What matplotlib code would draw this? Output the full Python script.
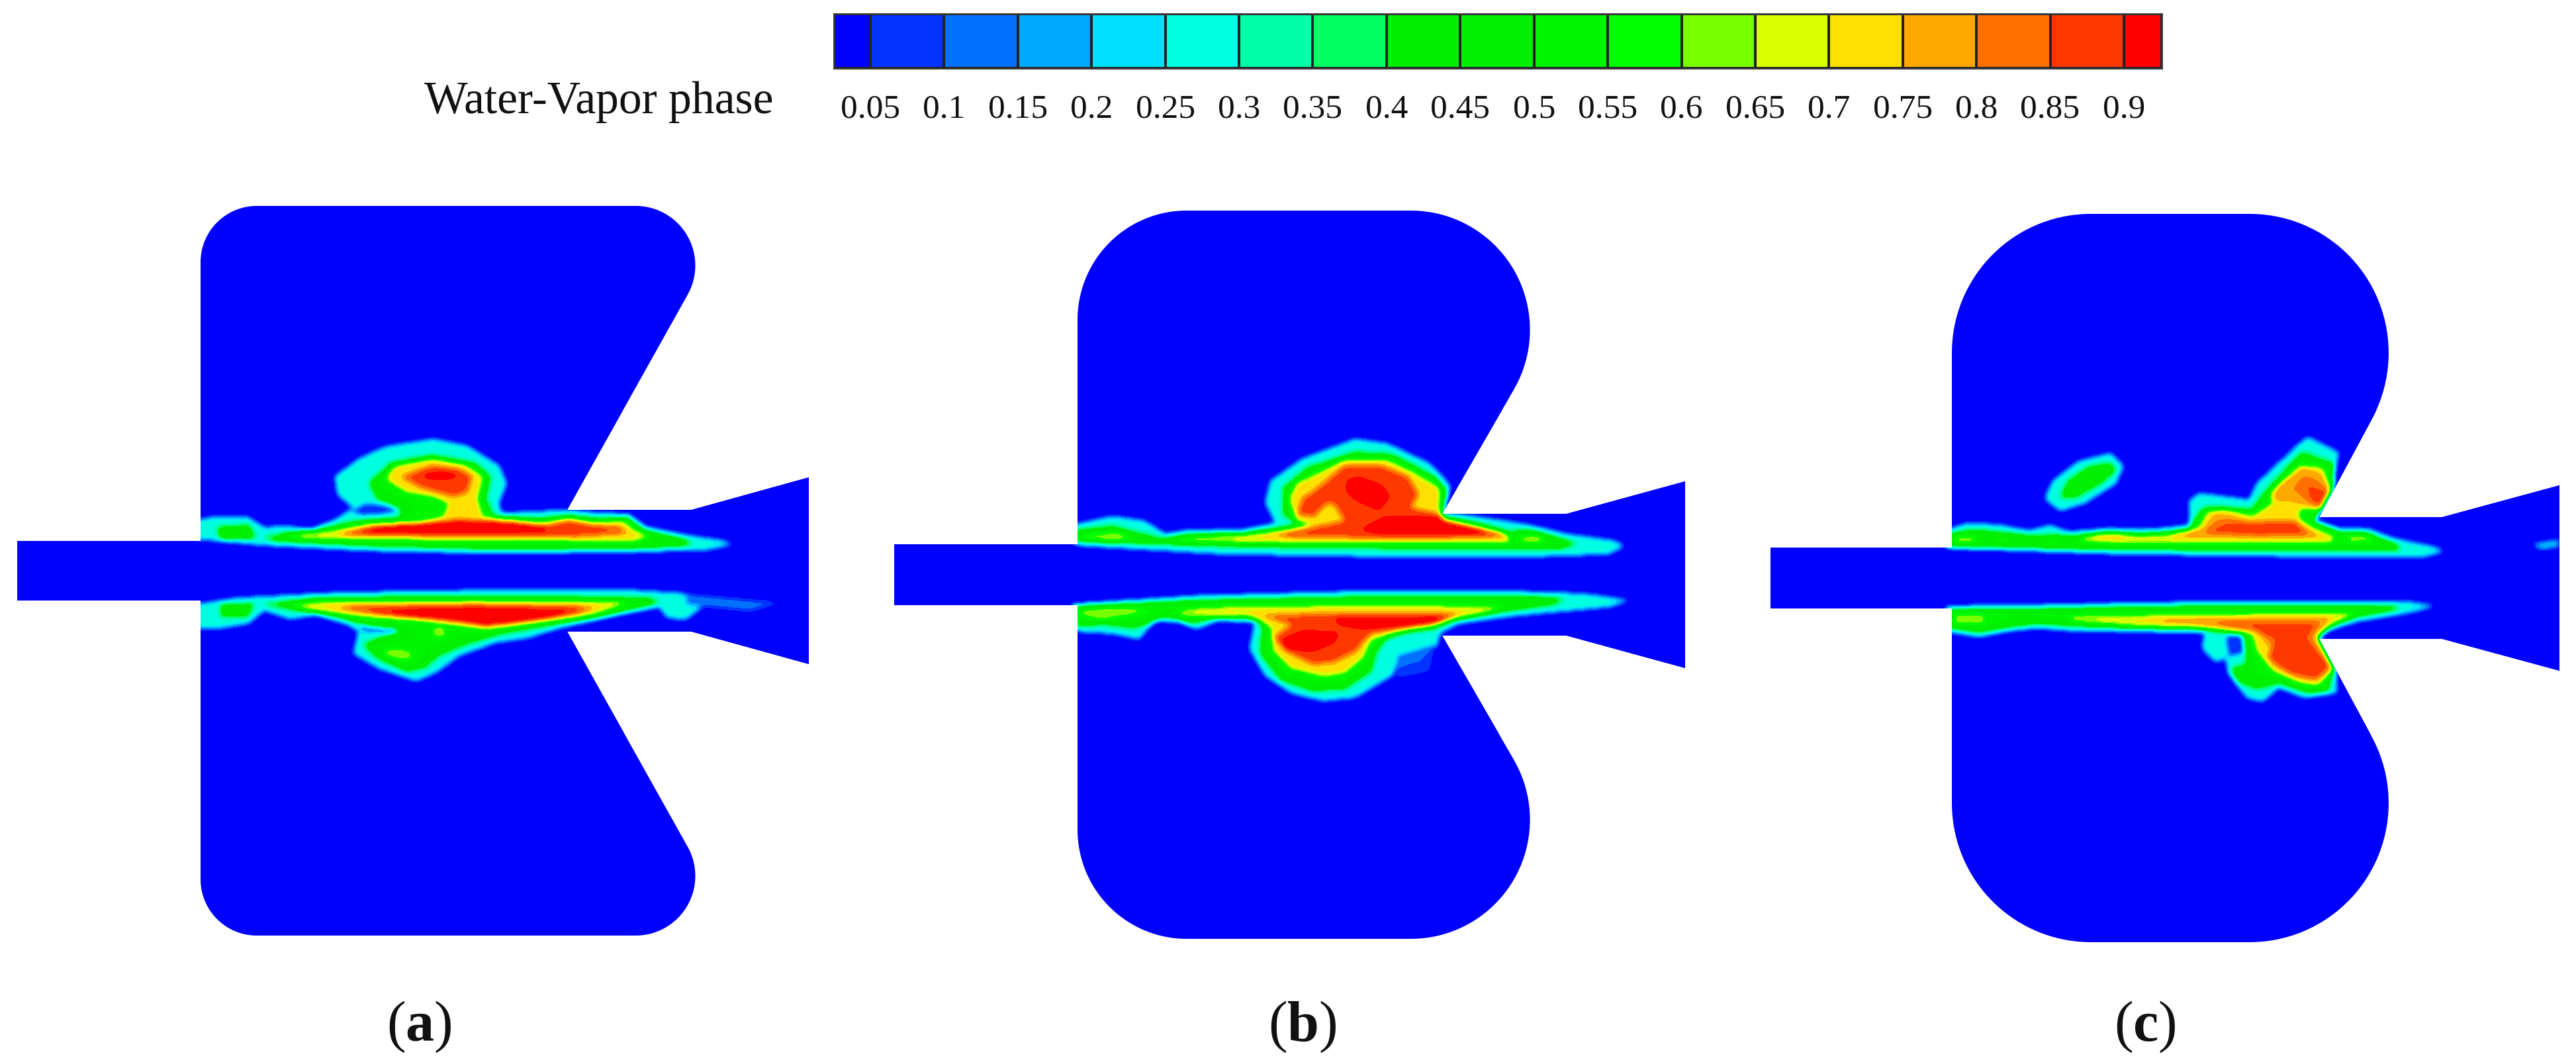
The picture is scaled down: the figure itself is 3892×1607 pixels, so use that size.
import numpy as np
import matplotlib
matplotlib.use("Agg")
import matplotlib.pyplot as plt
from matplotlib.path import Path
from matplotlib.patches import PathPatch

plt.rcParams['font.family'] = ['Liberation Serif', 'DejaVu Serif']
plt.rcParams['mathtext.fontset'] = 'custom'
plt.rcParams['mathtext.rm'] = 'Liberation Serif'
plt.rcParams['mathtext.bf'] = 'Liberation Serif:bold'

W, H = 3892, 1607

tick_values = [0.05, 0.1, 0.15, 0.2, 0.25, 0.3, 0.35, 0.4, 0.45, 0.5, 0.55, 0.6, 0.65, 0.7, 0.75, 0.8, 0.85, 0.9]
tick_labels = ['0.05', '0.1', '0.15', '0.2', '0.25', '0.3', '0.35', '0.4', '0.45', '0.5', '0.55', '0.6', '0.65', '0.7', '0.75', '0.8', '0.85', '0.9']
band_colors = ['#0000ff', '#0033ff', '#0070ff', '#00a8ff', '#00e0ff', '#00ffe0', '#00ffa8', '#00ff60', '#00ee00',
               '#00f000', '#00f500', '#00ff00', '#78ff00', '#d8ff00', '#ffe000', '#ffa800', '#ff7000', '#ff3800', '#ff0000']
bar_edges = [0.0253] + tick_values + [0.9256]

# chamber outlines in pixels: nozzle left, wall x, nozzle half height, centre y, half height,
# left radius, right radius, throat corner x, throat half height, slope of the wall,
# throat end x, exit x, exit half height
shape_a = dict(noz=26, wall=303, nh=45, cy=862, hh=551, rl=85, rr=90, tx=857, th=92, sl=0.56, te=1045, ex=1222, eh=141)
shape_b = dict(noz=1351, wall=1628, nh=46, cy=868, hh=550, rl=165, rr=180, tx=2179, th=92, sl=0.577, te=2367, ex=2546, eh=141)
shape_c = dict(noz=2675, wall=2949, nh=46, cy=873, hh=550, rl=210, rr=210, tx=3504, th=92, sl=0.538, te=3690, ex=3867, eh=140)

# traced iso-regions (level, outline), painted in order; x in crop units, y in crop units
a_regions = [
    (0.28, [(370,500),(410,480),(470,485),(500,530),(545,525),(590,540),(640,490),(670,440),(640,380),(635,300),(680,220),(730,165),(820,130),(885,160),(945,250),(960,330),(945,420),(950,465),(1010,460),(1075,450),(1130,465),(1190,470),(1225,530),(1300,565),(1370,590),(1390,605),(1340,630),(1200,640),(900,645),(700,635),(500,610),(370,580)]),
    (0.05, [(665,460),(690,420),(730,430),(750,450),(745,465),(690,475)]),
    (0.5, [(500,575),(600,540),(680,500),(760,485),(760,440),(715,400),(700,330),(740,240),(820,205),(900,240),(930,300),(920,400),(935,480),(1020,490),(1080,478),(1130,490),(1190,485),(1220,540),(1300,585),(1310,610),(1200,625),(900,625),(700,612),(520,590)]),
    (0.5, [(410,530),(470,520),(485,575),(420,585)]),
    (0.72, [(530,565),(620,550),(700,515),(800,505),(840,480),(850,420),(820,390),(770,370),(730,310),(750,250),(820,220),(880,245),(915,300),(905,400),(915,480),(950,490),(1030,510),(1075,490),(1130,510),(1180,500),(1200,540),(1230,570),(1200,590),(900,585),(700,580),(540,575)]),
    (0.87, [(640,560),(720,520),(830,505),(870,495),(1030,520),(1080,495),(1130,520),(1170,525),(1190,555),(1100,570),(800,570),(660,565)]),
    (0.87, [(760,300),(820,250),(870,265),(895,300),(885,370),(860,390),(800,350)]),
    (0.95, [(680,540),(760,520),(880,500),(960,505),(1030,525),(1040,550),(900,555),(700,555)]),
    (0.95, [(800,290),(840,278),(875,295),(840,312),(805,305)]),
    (0.28, [(370,900),(370,985),(420,985),(470,965),(500,905),(550,945),(600,925),(660,970),(680,1000),(670,1100),(720,1170),(790,1225),(830,1180),(870,1110),(940,1050),(1000,1030),(1060,985),(1170,925),(1250,890),(1265,940),(1300,945),(1330,890),(1300,830),(1200,815),(900,815),(650,825),(450,850),(370,880)]),
    (0.12, [(1300,830),(1480,870),(1420,910),(1380,900),(1300,880)]),
    (0.5, [(510,875),(600,850),(900,840),(1230,850),(1250,870),(1150,930),(1020,980),(950,1010),(880,1060),(830,1110),(805,1165),(770,1180),(715,1120),(690,1060),(730,1020),(770,1000),(700,975),(640,935),(560,900),(500,880)]),
    (0.5, [(420,880),(480,875),(470,930),(420,930)]),
    (0.1, [(680,975),(750,990),(745,1010),(690,1005)]),
    (0.72, [(540,885),(620,868),(900,865),(1190,870),(1120,925),(1000,965),(920,990),(800,950),(700,935),(600,905)]),
    (0.66, [(815,1000),(835,975),(850,1010),(830,1030)]),
    (0.66, [(725,1085),(760,1080),(785,1105),(770,1130),(735,1110)]),
    (0.87, [(620,890),(900,875),(1130,890),(1090,925),(950,970),(880,960),(760,935)]),
    (0.95, [(690,905),(900,895),(1090,905),(1040,940),(920,975),(860,950),(750,925)]),
]

b_regions = [
    (0.28, [(365,520),(440,480),(500,500),(540,560),(590,540),(690,540),(750,510),(730,420),(740,320),(800,220),(900,130),(960,150),(1040,240),(1080,340),(1065,465),(1110,475),(1180,500),(1230,520),(1300,560),(1390,590),(1410,615),(1380,650),(1200,665),(900,660),(650,650),(370,610)]),
    (0.5, [(365,545),(440,525),(480,550),(530,580),(590,560),(690,555),(770,530),(790,510),(765,470),(765,350),(810,260),(900,190),(970,200),(1050,300),(1075,370),(1065,480),(1130,510),(1190,550),(1230,540),(1290,580),(1320,605),(1280,630),(1100,628),(800,620),(600,610),(365,590)]),
    (0.66, [(385,565),(450,555),(480,580),(450,590),(385,585)]),
    (0.66, [(500,575),(515,580),(505,585)]),
    (0.66, [(1210,575),(1245,565),(1262,595),(1215,597)]),
    (0.72, [(560,580),(690,565),(800,530),(815,510),(790,500),(775,400),(790,330),(880,225),(960,225),(1010,280),(1060,350),(1060,460),(1070,490),(1180,560),(1195,595),(1100,600),(700,595),(570,590)]),
    (0.87, [(740,565),(820,530),(870,500),(790,470),(800,400),(830,350),(880,250),(950,250),(1000,300),(1020,380),(1005,440),(1060,470),(1070,500),(1170,550),(1190,570),(1050,578),(800,575)]),
    (0.72, [(815,500),(845,420),(860,420),(880,500),(840,520)]),
    (0.95, [(885,320),(905,300),(950,340),(965,390),(945,450),(905,410),(885,370)]),
    (0.95, [(910,540),(960,480),(1050,480),(1075,510),(1140,540),(1150,560),(950,560)]),
    (0.28, [(365,880),(600,840),(900,820),(1200,820),(1330,830),(1420,860),(1380,890),(1200,930),(1095,965),(1060,1010),(1055,1070),(985,1110),(970,1200),(900,1300),(840,1315),(780,1280),(730,1200),(700,1080),(710,960),(640,950),(600,990),(570,960),(520,950),(490,1035),(440,1010),(370,1000)]),
    (0.1, [(980,1110),(1050,1060),(1040,1180),(980,1210)]),
    (0.5, [(365,885),(600,860),(900,845),(1250,845),(1300,855),(1270,880),(1150,920),(1085,945),(1050,985),(1000,1000),(960,1030),(940,1090),(930,1180),(880,1260),(820,1270),(760,1220),(720,1100),(725,960),(690,935),(630,940),(590,965),(545,935),(480,985),(430,970),(370,975)]),
    (0.66, [(380,905),(450,895),(530,905),(440,935),(420,945),(380,925)]),
    (0.72, [(565,910),(620,895),(900,885),(1180,890),(1160,910),(1080,950),(1040,980),(980,1000),(930,1040),(915,1120),(880,1190),(840,1205),(780,1170),(745,1090),(740,980),(700,930),(620,930),(570,925)]),
    (0.87, [(720,925),(1100,920),(1060,960),(1000,985),(930,1010),(900,1090),(860,1140),(820,1150),(770,1090),(745,1030),(780,970)]),
    (0.95, [(860,940),(1070,935),(1050,965),(990,975),(920,990),(870,970)]),
    (0.95, [(760,1040),(800,1000),(870,1005),(860,1050),(820,1090),(770,1080)]),
]

c_regions = [
    (0.28, [(365,545),(410,510),(470,520),(525,545),(565,520),(600,550),(680,535),(760,540),(830,520),(830,410),(850,375),(945,405),(960,330),(1055,120),(1115,190),(1100,360),(1070,500),(1120,540),(1170,535),(1220,580),(1300,620),(1315,640),(1280,660),(1000,660),(700,650),(365,620)]),
    (0.5, [(370,560),(420,540),(520,565),(600,570),(680,550),(740,560),(830,540),(845,480),(860,440),(950,450),(975,370),(1045,190),(1105,240),(1105,350),(1075,480),(1065,500),(1120,550),(1160,550),(1230,610),(1230,630),(1000,635),(600,625),(370,620)]),
    (0.66, [(385,570),(425,570),(420,595),(385,595)]),
    (0.66, [(560,570),(585,575),(570,590)]),
    (0.66, [(460,590),(480,590),(470,600)]),
    (0.66, [(1130,570),(1170,565),(1190,590),(1140,595)]),
    (0.72, [(620,580),(660,560),(720,565),(790,565),(850,530),(865,460),(900,445),(950,480),(990,420),(985,380),(1040,250),(1085,260),(1100,360),(1075,450),(1040,445),(1040,490),(1065,530),(1110,575),(1100,598),(800,598),(620,592)]),
    (0.8, [(790,570),(860,535),(880,470),(910,480),(940,500),(1030,500),(1050,530),(1080,570),(1000,575)]),
    (0.8, [(990,400),(1000,340),(1050,260),(1080,290),(1100,365),(1075,440),(1030,410)]),
    (0.8, [(640,575),(690,562),(720,575),(660,585)]),
    (0.87, [(860,550),(900,510),(1030,500),(1055,560),(960,565)]),
    (0.87, [(1050,330),(1100,370),(1080,450),(1060,400)]),
    (0.28, [(555,400),(570,320),(620,230),(680,195),(705,250),(690,330),(630,420),(585,455)]),
    (0.5, [(585,390),(600,320),(640,255),(680,240),(690,270),(660,330),(615,390)]),
    (0.22, [(1485,605),(1535,585),(1537,615),(1500,630)]),
    (0.28, [(365,890),(600,880),(900,865),(1240,865),(1300,885),(1240,920),(1150,955),(1090,1000),(1075,1025),(1110,1160),(1110,1280),(1050,1300),(1000,1255),(970,1320),(940,1300),(905,1190),(900,1120),(880,1140),(855,1080),(860,1005),(700,1000),(620,1000),(540,985),(480,1000),(430,1025),(365,1000)]),
    (0.05, [(900,1020),(930,1015),(935,1100),(905,1115)]),
    (0.5, [(370,900),(600,895),(900,885),(1220,885),(1230,900),(1150,935),(1100,975),(1075,1030),(1105,1170),(1095,1270),(1060,1280),(1000,1235),(960,1260),(925,1230),(910,1170),(940,1150),(935,1015),(860,990),(700,985),(600,975),(540,965),(480,985),(430,1005),(370,985)]),
    (0.66, [(385,925),(440,925),(440,960),(385,960)]),
    (0.66, [(550,935),(570,935),(565,945)]),
    (0.66, [(455,925),(475,930),(460,935)]),
    (0.72, [(600,935),(900,925),(1150,920),(1110,960),(1075,1020),(1105,1170),(1075,1245),(1040,1230),(990,1180),(960,1090),(950,1010),(860,985),(740,975),(610,950)]),
    (0.8, [(740,950),(870,940),(1100,940),(1080,990),(1070,1040),(1105,1170),(1075,1225),(1040,1215),(990,1150),(985,1070),(960,1000),(870,980)]),
    (0.87, [(880,965),(1075,965),(1055,1030),(1100,1160),(1070,1215),(1020,1190),(980,1120),(995,1040),(950,990)]),
]


def rounded(pts, radii):
    # closed polygon with circular arcs at the corners that have a radius
    out = []
    n = len(pts)
    for i in range(n):
        p = np.array(pts[i], float)
        r = radii[i]
        if r == 0:
            out.append(p)
            continue
        a = np.array(pts[i - 1], float) - p
        b = np.array(pts[(i + 1) % n], float) - p
        a = a / np.hypot(*a)
        b = b / np.hypot(*b)
        half = np.arccos(np.clip(a @ b, -1, 1)) / 2
        t = r / np.tan(half)
        bis = (a + b) / np.hypot(*(a + b))
        c = p + bis * r / np.sin(half)
        s = p + a * t - c
        e = p + b * t - c
        a0 = np.arctan2(s[1], s[0])
        a1 = np.arctan2(e[1], e[0])
        d = (a1 - a0 + np.pi) % (2 * np.pi) - np.pi
        for u in np.linspace(0, 1, 40):
            out.append(c + r * np.array([np.cos(a0 + d * u), np.sin(a0 + d * u)]))
    return np.array(out)


def outline(s):
    cy = s['cy']
    topx = s['tx'] + s['sl'] * (s['hh'] - s['th'])
    upper = [(s['noz'], cy - s['nh']), (s['wall'], cy - s['nh']), (s['wall'], cy - s['hh']), (topx, cy - s['hh']),
             (s['tx'], cy - s['th']), (s['te'], cy - s['th']), (s['ex'], cy - s['eh'])]
    lower = [(x, 2 * cy - y) for x, y in upper[::-1]]
    r = [0, 0, s['rl'], s['rr'], 0, 0, 0]
    return rounded(upper + lower, r + r[::-1])


def blur(f, sigma):
    k = np.exp(-0.5 * (np.arange(-15, 16) / sigma) ** 2)
    k = k / k.sum()
    f = np.apply_along_axis(lambda v: np.convolve(v, k, mode='same'), 0, f)
    f = np.apply_along_axis(lambda v: np.convolve(v, k, mode='same'), 1, f)
    return f


def draw_panel(ax, shape, regions, x0, sx):
    verts = outline(shape)
    patch = PathPatch(Path(np.vstack([verts, verts[0]])), facecolor='#0000ff', edgecolor='none')
    ax.add_patch(patch)
    x = np.arange(shape['wall'] - 40, shape['ex'] + 40, 2.0)
    y = np.arange(620, 1110, 2.0)
    xx, yy = np.meshgrid(x, y)
    grid = np.column_stack([xx.ravel(), yy.ravel()])
    f = np.zeros(xx.shape)
    for level, poly in regions:
        p = np.array(poly, float)
        p = np.column_stack([x0 + p[:, 0] / sx, 620 + p[:, 1] / 3])
        f[Path(p).contains_points(grid).reshape(xx.shape)] = level
    f = blur(f, 2.0)
    levels = [-1] + tick_values + [2]
    cs = ax.contourf(x, y, f, levels=levels, colors=band_colors)
    cs.set_clip_path(patch)


fig = plt.figure(figsize=(W / 100, H / 100), dpi=100, facecolor='white')
ax = fig.add_axes([0, 0, 1, 1])
ax.set_xlim(0, W)
ax.set_ylim(H, 0)
ax.axis('off')

draw_panel(ax, shape_a, a_regions, 0, 1.2544)
draw_panel(ax, shape_b, b_regions, 1330, 1.2544)
draw_panel(ax, shape_c, c_regions, 2650, 1.2625)

ax.text(905, 154, 'Water-Vapor phase', fontsize=50, ha='center', va='center', color='#111111')
ax.text(633, 1551, r'($\mathbf{a}$)', fontsize=62, ha='center', va='center', color='#111111')
ax.text(1968, 1551, r'($\mathbf{b}$)', fontsize=62, ha='center', va='center', color='#111111')
ax.text(3241, 1551, r'($\mathbf{c}$)', fontsize=62, ha='center', va='center', color='#111111')

# colour legend
cax = fig.add_axes([1260 / W, 1 - 103 / H, (3266 - 1260) / W, (103 - 21) / H])
cax.pcolormesh(bar_edges, [0, 1], np.arange(19).reshape(1, -1), cmap=matplotlib.colors.ListedColormap(band_colors),
               edgecolors='#222222', linewidth=1.5)
cax.set_xlim(bar_edges[0], bar_edges[-1])
cax.set_yticks([])
cax.set_xticks(tick_values)
cax.set_xticklabels(tick_labels, fontsize=37, color='#111111')
cax.tick_params(axis='x', length=0, pad=28)
for sp in cax.spines.values():
    sp.set_color('#333333')
    sp.set_linewidth(2)

fig.savefig('out.png', dpi=100)
